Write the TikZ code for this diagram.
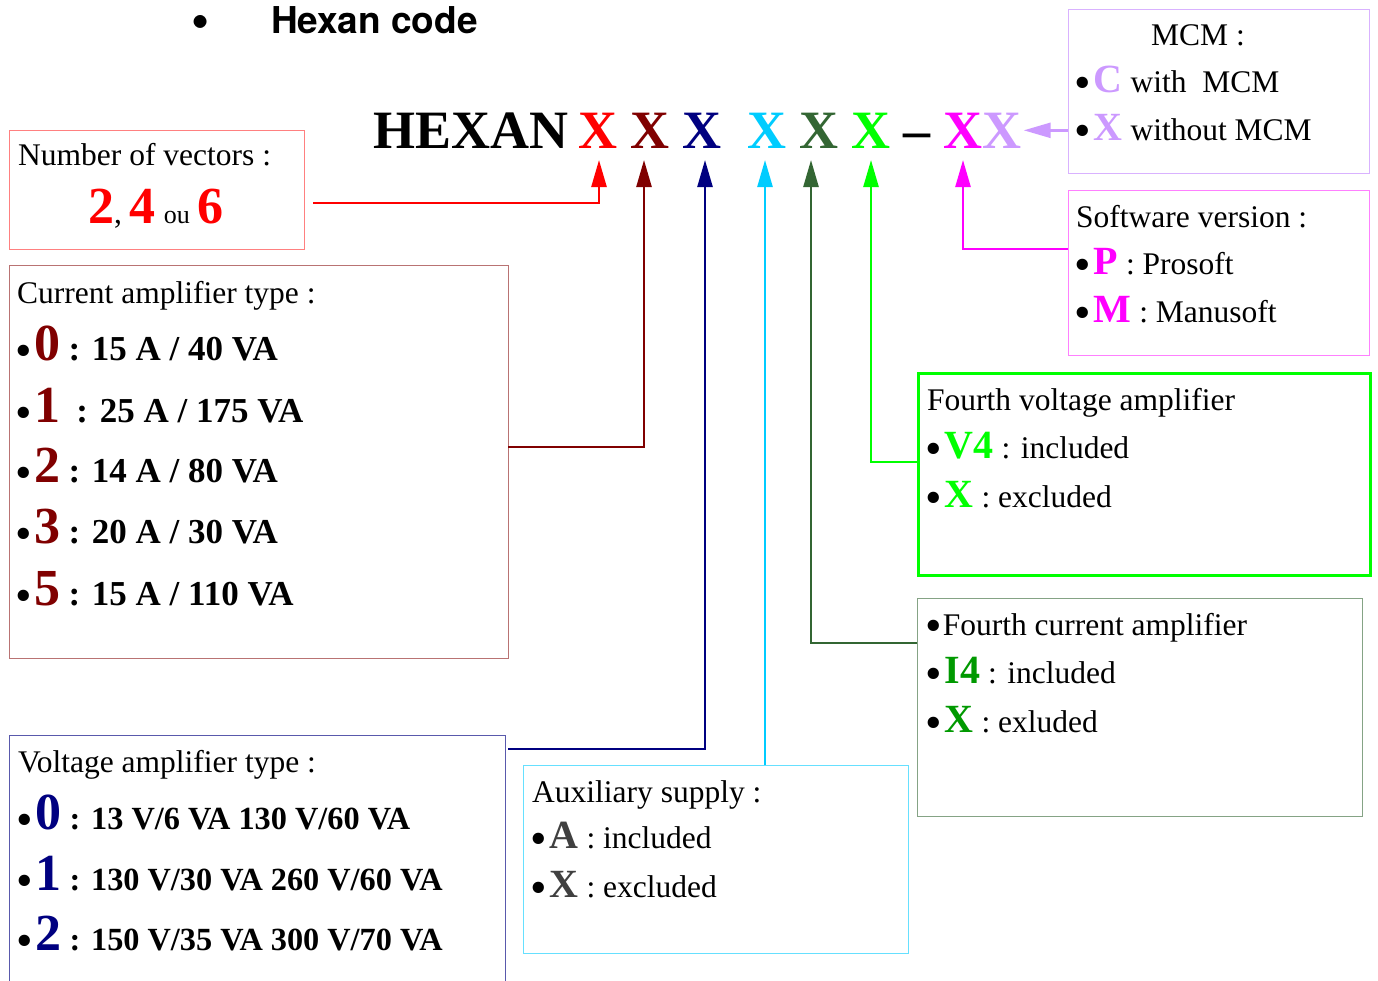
\documentclass[tikz,border=0pt]{standalone}
\usepackage{graphicx}
\usepackage{fontspec}
\setmainfont{Liberation Serif}
\newfontfamily\titlefont{TeX Gyre Heros}
\usetikzlibrary{arrows.meta}

\definecolor{vecred}{HTML}{FF0000}
\definecolor{ampred}{HTML}{800000}
\definecolor{ampnavy}{HTML}{000080}
\definecolor{auxcyan}{HTML}{00CCFF}
\definecolor{fourthdark}{HTML}{336633}
\definecolor{fourthgreen}{HTML}{00FF00}
\definecolor{soft}{HTML}{FF00FF}
\definecolor{mcmlav}{HTML}{CC99FF}
\definecolor{ifour}{HTML}{009900}
\definecolor{auxgray}{HTML}{404040}

\newcommand\txtsize{\fontsize{31.5}{36}\selectfont}
\newcommand\keysize{\fontsize{40}{44}\selectfont\bfseries}
\newcommand\digitsize{\fontsize{52}{56}\selectfont\bfseries}
\newcommand\codesize{\fontsize{54}{58}\selectfont\bfseries}
\newcommand\bigdot{\raisebox{-6pt}{\scalebox{1.5}{\textbullet}}}
\newcommand\itm{\bigdot\hspace{3pt}}

\tikzset{box/.style={draw, line width=1.3pt, anchor=north west, inner sep=0pt},
        line/.style={anchor=base west, inner sep=0pt, font=\txtsize},
        code/.style={anchor=base, inner sep=0pt, font=\codesize},
        link/.style={line width=2.5pt, -{Triangle[length=27pt,width=15pt]}},
        }

\begin{document}
\begin{tikzpicture}[x=1pt, y=-1pt]
    \useasboundingbox (0,0) rectangle (1378,980);
    \clip (0,0) rectangle (1378,980);

    \node[anchor=center, inner sep=0pt, font=\titlefont\bfseries\fontsize{37}{40}\selectfont] (title-dot) at (201,26) {\scalebox{1.4}{\textbullet}};
    \node[anchor=base west, inner sep=0pt, font=\titlefont\bfseries\fontsize{37}{40}\selectfont] (title) at (271,33) {Hexan code};

    % the code
    \node[code, anchor=base west] (hexan) at (373,148) {HEXAN};
    \node[code, vecred] (Xa) at (598,148) {X};
    \node[code, ampred] (Xb) at (650,148) {X};
    \node[code, ampnavy] (Xc) at (702,148) {X};
    \node[code, auxcyan] (Xd) at (767,148) {X};
    \node[code, fourthdark] (Xe) at (819,148) {X};
    \node[code, fourthgreen] (Xf) at (871,148) {X};
    \node[code] (dash) at (917,148) {--};
    \node[code, soft] (Xg) at (963,148) {X};
    \node[code, mcmlav] (Xh) at (1002,148) {X};

    % boxes
    \node[box, draw=mcmlav!75, minimum width=301pt, minimum height=164pt] (mcm) at (1068,9) {};
    \node[line] (mcm-head) at (1151,45) {MCM :};
    \node[line] (mcm-c) at (1074,92) {\itm{\keysize\color{mcmlav}C} with\ \ MCM};
    \node[line] (mcm-x) at (1074,140) {\itm{\keysize\color{mcmlav}X} without MCM};

    \node[box, draw=vecred!50, minimum width=295pt, minimum height=119pt] (vectors) at (9,130) {};
    \node[line] (vectors-head) at (18,165) {Number of vectors :};
    \node[line] (vectors-n) at (88,223) {{\digitsize\color{vecred}2},\ {\digitsize\color{vecred}4} {\fontsize{26}{30}\selectfont ou} {\digitsize\color{vecred}6}};

    \node[box, draw=soft!50, minimum width=301pt, minimum height=165pt] (software) at (1068,190) {};
    \node[line] (software-head) at (1076,227) {Software version :};
    \node[line] (software-p) at (1074,274) {\itm{\keysize\color{soft}P} : Prosoft};
    \node[line] (software-m) at (1074,322) {\itm{\keysize\color{soft}M} : Manusoft};

    \node[box, draw=ampred!55, minimum width=499pt, minimum height=393pt] (current) at (9,265) {};
    \node[line] (current-head) at (17,303) {Current amplifier type :};
    \node[line] (current-0) at (15,360) {\itm{\digitsize\color{ampred}0} {\fontsize{35}{40}\selectfont\bfseries : 15 A / 40 VA}};
    \node[line] (current-1) at (15,422) {\itm{\digitsize\color{ampred}1}\ \ {\fontsize{35}{40}\selectfont\bfseries : 25 A / 175 VA}};
    \node[line] (current-2) at (15,482) {\itm{\digitsize\color{ampred}2} {\fontsize{35}{40}\selectfont\bfseries : 14 A / 80 VA}};
    \node[line] (current-3) at (15,543) {\itm{\digitsize\color{ampred}3} {\fontsize{35}{40}\selectfont\bfseries : 20 A / 30 VA}};
    \node[line] (current-5) at (15,605) {\itm{\digitsize\color{ampred}5} {\fontsize{35}{40}\selectfont\bfseries : 15 A / 110 VA}};

    \node[box, draw=fourthgreen, line width=2.5pt, minimum width=452pt, minimum height=202pt] (fourthV) at (917,372) {};
    \node[line] (fourthV-head) at (927,410) {Fourth voltage amplifier};
    \node[line] (fourthV-v4) at (925,458) {\itm{\keysize\color{fourthgreen}V4} : included};
    \node[line] (fourthV-x) at (925,507) {\itm{\keysize\color{fourthgreen}X} : excluded};

    \node[box, draw=fourthdark!60, minimum width=445pt, minimum height=218pt] (fourthI) at (917,598) {};
    \node[line] (fourthI-head) at (925,635) {\bigdot\hspace{1pt}Fourth current amplifier};
    \node[line] (fourthI-i4) at (925,683) {\itm{\keysize\color{ifour}I4} : included};
    \node[line] (fourthI-x) at (925,732) {\itm{\keysize\color{ifour}X} : exluded};

    \node[box, draw=ampnavy!65, minimum width=496pt, minimum height=260pt] (voltage) at (9,735) {};
    \node[line] (voltage-head) at (18,772) {Voltage amplifier type :};
    \node[line] (voltage-0) at (16,829) {\itm{\digitsize\color{ampnavy}0} {\fontsize{32.3}{36}\selectfont\bfseries : 13 V/6 VA 130 V/60 VA}};
    \node[line] (voltage-1) at (16,890) {\itm{\digitsize\color{ampnavy}1} {\fontsize{32.3}{36}\selectfont\bfseries : 130 V/30 VA 260 V/60 VA}};
    \node[line] (voltage-2) at (16,950) {\itm{\digitsize\color{ampnavy}2} {\fontsize{32.3}{36}\selectfont\bfseries : 150 V/35 VA 300 V/70 VA}};

    \node[box, draw=auxcyan!60, minimum width=385pt, minimum height=188pt] (aux) at (523,765) {};
    \node[line] (aux-head) at (532,802) {Auxiliary supply :};
    \node[line] (aux-a) at (530,848) {\itm{\keysize\color{auxgray}A} : included};
    \node[line] (aux-x) at (530,897) {\itm{\keysize\color{auxgray}X} : excluded};

    % links
    \coordinate (vectors-out) at (313,203);
    \coordinate (current-out) at (508,447);
    \coordinate (voltage-out) at (508,749);
    \coordinate (fourthI-in) at (917,643);
    \coordinate (fourthV-in) at (917,462);
    \coordinate (software-in) at (1068,249);

    \draw[link, vecred] (vectors-out) -| ([xshift=1pt,yshift=-12pt]Xa.base);
    \draw[link, ampred] (current-out) -| ([xshift=-6pt,yshift=-12pt]Xb.base);
    \draw[link, ampnavy] (voltage-out) -| ([xshift=3pt,yshift=-12pt]Xc.base);
    \draw[link, auxcyan] ([xshift=-2pt]aux.north -| Xd) -- ([xshift=-2pt,yshift=-12pt]Xd.base);
    \draw[link, fourthdark] (fourthI-in) -| ([xshift=-8pt,yshift=-12pt]Xe.base);
    \draw[link, fourthgreen] (fourthV-in) -| ([yshift=-12pt]Xf.base);
    \draw[link, soft] (software-in) -| ([yshift=-12pt]Xg.base);
    \draw[link, mcmlav] (mcm.west |- Xh) -- ([xshift=2pt]Xh.east);

\end{tikzpicture}
\end{document}
